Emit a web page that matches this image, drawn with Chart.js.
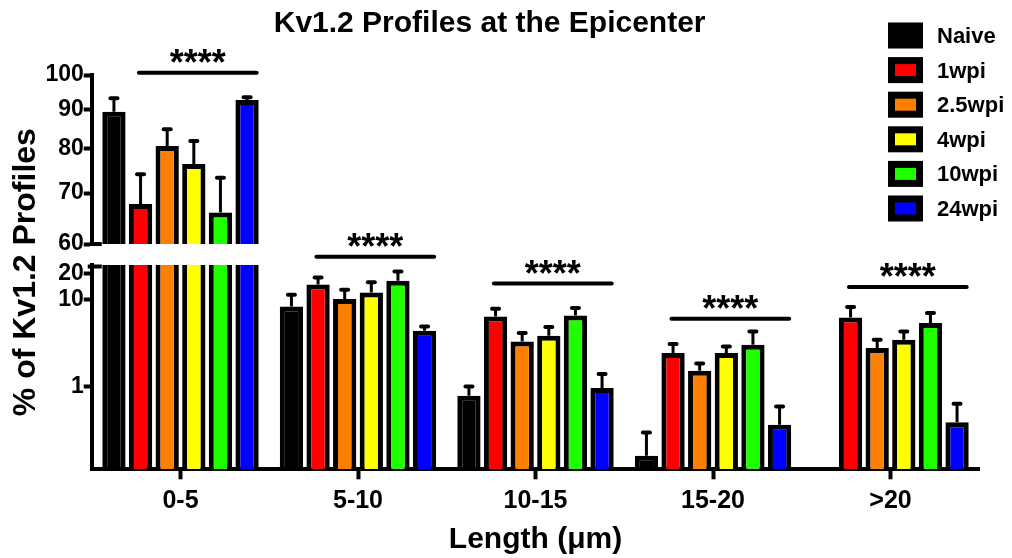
<!DOCTYPE html>
<html>
<head>
<meta charset="utf-8">
<title>Kv1.2 Profiles at the Epicenter</title>
<script src="https://cdn.jsdelivr.net/npm/chart.js@4/dist/chart.umd.min.js"></script>
<style>
  html, body { margin: 0; padding: 0; background: #fff; }
</style>
</head>
<body>
<canvas id="kvChart" width="1012" height="558"></canvas>
<script>
// categories and series
const categories = ['0-5', '5-10', '10-15', '15-20', '>20'];
const seriesNames = ['Naive', '1wpi', '2.5wpi', '4wpi', '10wpi', '24wpi'];
const seriesColors = ['#000000', '#ff0000', '#ff8000', '#ffff00', '#1eff00', '#0000ff'];

// mean % of profiles per length bin
const naive  = [89.5, 8.37, 0.788, 0.162, null];
const wpi1   = [67.7, 14.9, 6.43, 2.44, 6.26];
const wpi2_5 = [80.7, 10.2, 3.32, 1.53, 2.79];
const wpi4   = [76.4, 12.1, 3.86, 2.44, 3.47];
const wpi10  = [66.0, 16.5, 6.60, 3.04, 5.40];
const wpi24  = [92.7, 4.40, 0.966, 0.366, 0.393];

// SEM (upper error bar)
const naiveErr  = [3.7, 3.0, 0.22, 0.136, null];
const wpi1Err   = [6.4, 3.1, 1.45, 0.66, 1.98];
const wpi2_5Err = [4.2, 2.8, 0.82, 0.32, 0.68];
const wpi4Err   = [5.5, 3.7, 1.0, 0.47, 0.85];
const wpi10Err  = [7.3, 4.6, 1.42, 1.28, 1.63];
const wpi24Err  = [0.8, 0.53, 0.44, 0.228, 0.245];

// broken axis: upper and lower segments
const topTicks = [60, 70, 80, 90, 100];
const bottomTicks = [1, 10, 20];
const bottomMin = 0.113;
const bottomMax = 25;

// significance bars (height in axis units) per category
const sigLevels = [100.7, 31, 15.3, 6.05, 14];
const sigAxes = ['yTop', 'yBot', 'yBot', 'yBot', 'yBot'];
const sigText = '****';

const values = [naive, wpi1, wpi2_5, wpi4, wpi10, wpi24];
const errors = [naiveErr, wpi1Err, wpi2_5Err, wpi4Err, wpi10Err, wpi24Err];
const topMin = topTicks[0];

const FAMILY = "'Liberation Sans', Arial, Helvetica, sans-serif";
const bold = size => ({ family: FAMILY, size: size, weight: 'bold' });

const datasets = [];
seriesNames.forEach((name, k) => {
    datasets.push({
        label: name, data: values[k], errors: errors[k],
        yAxisID: 'yBot', stack: 's' + k, backgroundColor: seriesColors[k]
    });
});
seriesNames.forEach((name, k) => {
    datasets.push({
        label: name, data: values[k].map(v => (v !== null && v >= topMin) ? v : null), errors: errors[k],
        yAxisID: 'yTop', stack: 's' + k, backgroundColor: seriesColors[k]
    });
});

const decor = {
    id: 'decor',
    beforeDatasetDraw(chart, args) {
        const ctx = chart.ctx;
        const ys = args.meta.yScale;
        const a = chart.chartArea;
        ctx.save();
        ctx.beginPath();
        ctx.rect(a.left, ys.top, a.right - a.left, ys.bottom - ys.top);
        ctx.clip();
    },
    afterDatasetDraw(chart, args) {
        const ctx = chart.ctx;
        const ds = chart.data.datasets[args.index];
        const ys = args.meta.yScale;
        ctx.strokeStyle = '#000';
        args.meta.data.forEach((bar, i) => {
            const v = ds.data[i], e = ds.errors[i];
            if (v === null || e === null) return;
            const y0 = ys.getPixelForValue(v);
            const y1 = ys.getPixelForValue(v + e);
            ctx.lineWidth = 3;
            ctx.lineCap = 'butt';
            ctx.beginPath();
            ctx.moveTo(bar.x, y0);
            ctx.lineTo(bar.x, y1);
            ctx.stroke();
            ctx.lineWidth = 4;
            ctx.lineCap = 'round';
            ctx.beginPath();
            ctx.moveTo(bar.x - 3.5, y1);
            ctx.lineTo(bar.x + 3.5, y1);
            ctx.stroke();
        });
        ctx.restore();
    },
    afterDraw(chart) {
        const ctx = chart.ctx;
        const L = chart.chartArea.left;
        const yt = chart.scales.yTop, yb = chart.scales.yBot;
        ctx.save();
        ctx.strokeStyle = '#000';
        ctx.fillStyle = '#000';

        // break marks
        ctx.lineWidth = 4;
        ctx.beginPath();
        ctx.moveTo(L - 2, yt.bottom);
        ctx.lineTo(L + 10, yt.bottom);
        ctx.moveTo(L - 4, yb.top + 1.5);
        ctx.lineTo(L + 10, yb.top + 1.5);
        ctx.stroke();

        // significance bars
        const first = chart.getDatasetMeta(1), last = chart.getDatasetMeta(5);
        ctx.font = 'bold 36px ' + FAMILY;
        ctx.textAlign = 'center';
        ctx.textBaseline = 'alphabetic';
        sigLevels.forEach((lvl, i) => {
            const b1 = first.data[i], b5 = last.data[i];
            const x1 = b1.x - b1.width / 2 + 10;
            const x2 = b5.x + b5.width / 2 - 2;
            const y = chart.scales[sigAxes[i]].getPixelForValue(lvl);
            ctx.lineWidth = 4;
            ctx.lineCap = 'round';
            ctx.beginPath();
            ctx.moveTo(x1, y);
            ctx.lineTo(x2, y);
            ctx.stroke();
            const m = ctx.measureText(sigText);
            ctx.fillText(sigText, (x1 + x2) / 2, y - 9.5 - m.actualBoundingBoxDescent);
        });

        // legend
        ctx.textAlign = 'left';
        ctx.textBaseline = 'middle';
        ctx.font = 'bold 22px ' + FAMILY;
        for (let k = 0; k < seriesNames.length; k++) {
            const ds = chart.data.datasets[k];
            const cy = 35.5 + k * 34.6;
            ctx.fillStyle = '#000';
            ctx.fillRect(888, cy - 13, 35, 26);
            ctx.fillStyle = ds.backgroundColor;
            ctx.fillRect(895, cy - 6, 21, 12);
            ctx.fillStyle = '#000';
            ctx.fillText(ds.label, 937, cy + 1.5);
        }
        ctx.restore();
    }
};

const yGrid = { drawOnChartArea: false, tickLength: 8, tickWidth: 4, tickColor: '#000' };
const yBorder = { color: '#000', width: 4 };
const yTickOpts = { color: '#000', font: bold(23), padding: 0, autoSkip: false, callback: v => String(v) };

new Chart(document.getElementById('kvChart').getContext('2d'), {
    type: 'bar',
    data: { labels: categories, datasets: datasets },
    options: {
        responsive: false,
        animation: false,
        events: [],
        layout: { padding: { left: 0, right: 32.75, top: 0, bottom: 0 } },
        datasets: {
            bar: {
                categoryPercentage: 0.9,
                barPercentage: 0.875,
                borderWidth: 5,
                borderColor: '#000',
                borderSkipped: 'start'
            }
        },
        plugins: {
            legend: { display: false },
            tooltip: { enabled: false },
            title: {
                display: true,
                text: 'Kv1.2 Profiles at the Epicenter',
                color: '#000',
                font: bold(30),
                padding: { top: 6, bottom: 33 }
            }
        },
        scales: {
            x: {
                offset: true,
                grid: { offset: false, drawOnChartArea: false, tickLength: 10, tickWidth: 4, tickColor: '#000' },
                border: { color: '#000', width: 4 },
                ticks: { color: '#000', font: bold(25), padding: 7, maxRotation: 0 },
                title: { display: true, text: 'Length (μm)', color: '#000', font: bold(30), padding: { top: 0, bottom: 0 } },
                afterFit: s => { s.height = 88.7; }
            },
            yTitle: {
                type: 'linear',
                position: 'left',
                weight: 10,
                grid: { display: false },
                border: { display: false },
                ticks: { display: false },
                title: { display: true, text: '% of Kv1.2 Profiles', color: '#000', font: bold(32), padding: { top: 7, bottom: 0 } },
                afterFit: s => { s.width = 44; }
            },
            yTop: {
                type: 'logarithmic',
                position: 'left',
                stack: 'seg',
                stackWeight: 169,
                weight: 3,
                min: topTicks[0],
                max: topTicks[topTicks.length - 1],
                stacked: false,
                bounds: 'data',
                afterBuildTicks: s => { s.ticks = topTicks.map(v => ({ value: v })); },
                ticks: yTickOpts,
                grid: yGrid,
                border: yBorder,
                afterFit: s => { s.width = 47.75; }
            },
            yGap: {
                type: 'linear',
                display: false,
                position: 'left',
                stack: 'seg',
                stackWeight: 21,
                weight: 2,
                afterFit: s => { s.width = 47.75; }
            },
            yBot: {
                type: 'logarithmic',
                position: 'left',
                stack: 'seg',
                stackWeight: 204.3,
                weight: 1,
                min: bottomMin,
                max: bottomMax,
                stacked: false,
                bounds: 'data',
                afterBuildTicks: s => { s.ticks = bottomTicks.map(v => ({ value: v })); },
                ticks: yTickOpts,
                grid: yGrid,
                border: yBorder,
                afterFit: s => { s.width = 47.75; }
            }
        }
    },
    plugins: [decor]
});
</script>
</body>
</html>
